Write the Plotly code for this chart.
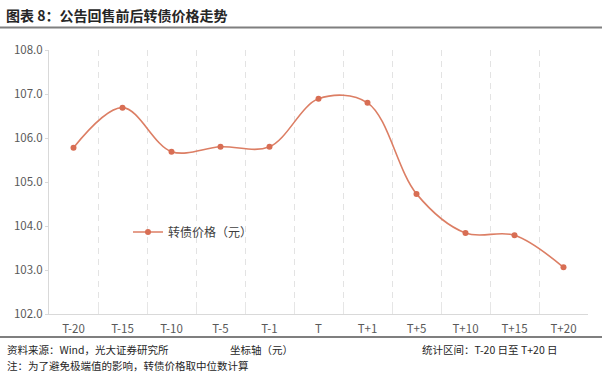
import plotly.graph_objects as go

categories = ["T-20", "T-15", "T-10", "T-5", "T-1", "T", "T+1", "T+5", "T+10", "T+15", "T+20"]
price = [105.78, 106.69, 105.69, 105.80, 105.80, 106.89, 106.80, 104.73, 103.84, 103.79, 103.06]
y_ticks = [102.0, 103.0, 104.0, 105.0, 106.0, 107.0, 108.0]

FONT = "Noto Sans CJK SC"
W, H = 602, 373
L, R, T, B = 49, 588, 50, 314

def px(x):
    return (x - L) / (R - L)

def py(y):
    return (B - y) / (B - T)

fig = go.Figure()
fig.add_trace(go.Scatter(
    x=categories, y=price, mode="lines+markers", name="转债价格（元）",
    line=dict(color="#DC7E64", width=1.6, shape="spline", smoothing=1.0),
    marker=dict(color="#D86E54", size=6),
))

fig.update_layout(
    width=W, height=H,
    margin=dict(l=L, r=W - R, t=T, b=H - B),
    paper_bgcolor="white", plot_bgcolor="white",
    font=dict(family=FONT, size=11, color="#595959"),
    showlegend=True,
    legend=dict(x=px(128), y=py(232), xanchor="left", yanchor="middle",
                bgcolor="rgba(255,255,255,0)", font=dict(size=12, color="#404040"),
                itemwidth=30),
    xaxis=dict(type="category", range=[-0.5, 10.5], tickson="boundaries",
               showgrid=True, gridcolor="#E3E3E3", griddash="6px,5px", gridwidth=1,
               showline=True, linecolor="#D9D9D9", linewidth=1,
               ticks="inside", ticklen=12, tickcolor="#E6E6E6",
               ticklabelstandoff=4,
               tickfont=dict(size=11.5, color="#595959"), fixedrange=True),
    yaxis=dict(range=[102, 108], tickvals=y_ticks,
               ticktext=[f"{v:.1f}" for v in y_ticks],
               showgrid=False, zeroline=False,
               showline=True, linecolor="#D9D9D9", linewidth=1,
               ticks="outside", ticklen=3, tickcolor="#D9D9D9",
               tickfont=dict(size=11.5, color="#595959"), fixedrange=True),
)

annotations = [
    dict(text="<b>图表 8：公告回售前后转债价格走势</b>", x=px(4), y=py(15),
         font=dict(size=14, color="#262626")),
    dict(text="资料来源：Wind，光大证券研究所", x=px(5), y=py(350),
         font=dict(size=10.5, color="#262626")),
    dict(text="坐标轴（元）", x=px(228), y=py(350),
         font=dict(size=10.5, color="#262626")),
    dict(text="统计区间：T-20 日至 T+20 日", x=px(420), y=py(350),
         font=dict(size=10.5, color="#262626")),
    dict(text="注：为了避免极端值的影响，转债价格取中位数计算", x=px(5), y=py(365),
         font=dict(size=10.5, color="#262626")),
]
for a in annotations:
    a.update(xref="paper", yref="paper", xanchor="left", yanchor="middle", showarrow=False)
fig.update_layout(annotations=annotations)

fig.add_shape(type="line", xref="paper", yref="paper", x0=px(0), x1=px(602),
              y0=py(27.5), y1=py(27.5), line=dict(color="#7F7F7F", width=2))
fig.add_shape(type="line", xref="paper", yref="paper", x0=px(0), x1=px(602),
              y0=py(337), y1=py(337), line=dict(color="#7F7F7F", width=2))

fig.write_html("out.html")
